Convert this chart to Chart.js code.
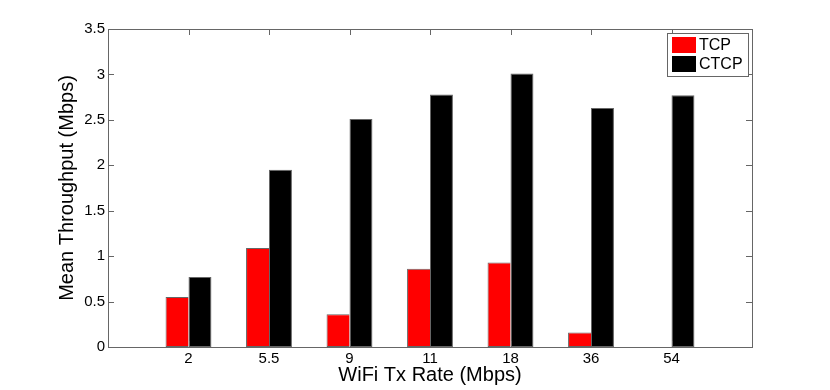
<!DOCTYPE html>
<html>
<head>
<meta charset="utf-8">
<script src="https://cdn.jsdelivr.net/npm/chart.js@4/dist/chart.umd.min.js"></script>
<style>
html,body{margin:0;padding:0;background:#fff;}
#wrap{width:830px;height:390px;position:relative;}
</style>
</head>
<body>
<div id="wrap"><canvas id="c" width="830" height="390"></canvas></div>
<script>
const categories = ['2', '5.5', '9', '11', '18', '36', '54'];
const tcpValues = [0.55, 1.09, 0.36, 0.86, 0.93, 0.16, 0];
const ctcpValues = [0.77, 1.95, 2.51, 2.78, 3.01, 2.63, 2.77];
const yTicks = [0, 0.5, 1, 1.5, 2, 2.5, 3, 3.5];
const seriesNames = ['TCP', 'CTCP'];

// pad the category axis with empty slots at both ends (as in the original axes)
const labels = [''].concat(categories, ['']);
const pad = arr => [null].concat(arr, [null]);

const FONT = "'Liberation Sans', Arial, Helvetica, sans-serif";
const FRAME = '#666666';

const framePlugin = {
  id: 'matlabFrame',
  afterDatasetsDraw(chart) {
    const {ctx, chartArea: a, scales} = chart;
    ctx.save();
    ctx.strokeStyle = FRAME;
    ctx.lineWidth = 1;
    // ticks (inward)
    const tl = 6;
    ctx.beginPath();
    yTicks.forEach(v => {
      const y = Math.round(scales.y.getPixelForValue(v)) + 0.5;
      ctx.moveTo(a.left, y); ctx.lineTo(a.left + tl, y);
      ctx.moveTo(a.right, y); ctx.lineTo(a.right - tl, y);
    });
    categories.forEach((c, i) => {
      const x = Math.round(scales.x.getPixelForValue(i + 1)) + 0.5;
      ctx.moveTo(x, a.top); ctx.lineTo(x, a.top + tl);
      ctx.moveTo(x, a.bottom); ctx.lineTo(x, a.bottom - tl);
    });
    ctx.stroke();
    // frame
    ctx.strokeRect(Math.round(a.left) + 0.5, Math.round(a.top) + 0.5,
                   Math.round(a.right - a.left), Math.round(a.bottom - a.top));

    // legend box inside top-right
    const fs = 16;
    ctx.font = fs + 'px ' + FONT;
    const sw = 24, sh = 15, rowH = 19;
    let tw = 0;
    chart.data.datasets.forEach(d => { tw = Math.max(tw, ctx.measureText(d.label).width); });
    const bw = Math.round(5 + sw + 3 + tw + 5);
    const bh = 4 + rowH + sh + 5;
    const bx = Math.round(a.right - 4 - bw);
    const by = Math.round(a.top + 4);
    ctx.fillStyle = '#fff';
    ctx.fillRect(bx, by, bw, bh);
    ctx.strokeStyle = FRAME;
    ctx.strokeRect(bx + 0.5, by + 0.5, bw, bh);
    chart.data.datasets.forEach((d, i) => {
      const ry = by + 4 + i * rowH;
      ctx.fillStyle = d.backgroundColor;
      ctx.fillRect(bx + 5, ry, sw, sh + 1);
      ctx.fillStyle = '#000';
      ctx.textBaseline = 'middle';
      ctx.textAlign = 'left';
      ctx.fillText(d.label, bx + 5 + sw + 3, ry + sh / 2 + 1);
    });
    ctx.restore();
  }
};

new Chart(document.getElementById('c'), {
  type: 'bar',
  data: {
    labels: labels,
    datasets: [
      { label: seriesNames[0], data: pad(tcpValues), backgroundColor: '#ff0000',
        borderColor: FRAME, borderWidth: { left: 1, top: 1, bottom: 1, right: 0 }, borderSkipped: false },
      { label: seriesNames[1], data: pad(ctcpValues), backgroundColor: '#000000',
        borderColor: FRAME, borderWidth: 1, borderSkipped: false }
    ]
  },
  options: {
    responsive: false,
    animation: false,
    devicePixelRatio: 1,
    layout: { padding: { left: 55, right: 78, top: 29, bottom: 0 } },
    datasets: { bar: { categoryPercentage: 0.57, barPercentage: 1.0 } },
    plugins: {
      legend: { display: false },
      tooltip: { enabled: false },
      title: { display: false }
    },
    scales: {
      x: {
        type: 'category',
        offset: false,
        grid: { display: false, drawTicks: false },
        border: { display: false },
        ticks: { color: '#000', font: { family: FONT, size: 15, lineHeight: 1 },
                 padding: 4, autoSkip: false, maxRotation: 0 },
        title: { display: true, text: 'WiFi Tx Rate (Mbps)', color: '#000',
                 font: { family: FONT, size: 20 }, padding: { top: 0, bottom: 3 } },
        afterFit(s) { s.height = 43; }
      },
      y: {
        min: 0, max: 3.5,
        grid: { display: false, drawTicks: false },
        border: { display: false },
        afterBuildTicks(s) { s.ticks = yTicks.map(v => ({ value: v })); },
        ticks: { color: '#000', font: { family: FONT, size: 15 }, padding: 3,
                 callback: v => String(v) },
        title: { display: true, text: 'Mean Throughput (Mbps)', color: '#000',
                 font: { family: FONT, size: 20 }, padding: { top: 0, bottom: 0 } },
        afterFit(s) { s.width = 53; }
      }
    }
  },
  plugins: [framePlugin]
});
</script>
</body>
</html>
